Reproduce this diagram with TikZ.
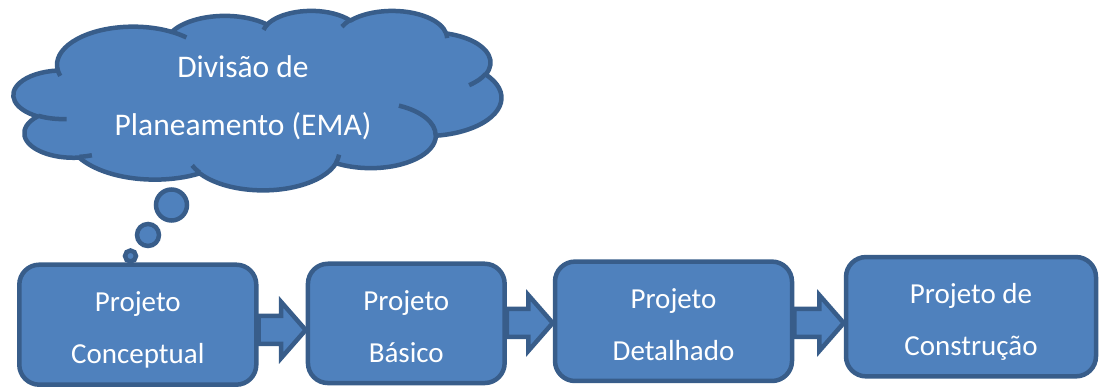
\documentclass[tikz,border=0pt]{standalone}
\usepackage{fontspec}
\setmainfont{Carlito}
\usepackage{xcolor}
\usepackage{tikz}
\usetikzlibrary{calc}
\definecolor{boxfill}{HTML}{4F81BD}
\definecolor{boxline}{HTML}{385D8A}
\pgfdeclarelayer{background}
\pgfsetlayers{background,main}
\newcommand{\puff}[4]{arc[x radius=#1, y radius=#2, start angle={atan2(#1*sin(#3),#2*cos(#3))}, delta angle={mod(atan2(#1*sin(#3+#4),#2*cos(#3+#4))-atan2(#1*sin(#3),#2*cos(#3))+720,360)}]}
\newcommand{\boxstrut}{\rule[-8pt]{0pt}{42pt}}
\newcommand{\cloudstrut}{\rule[-10pt]{0pt}{48pt}}
\newcommand{\flowarrow}[3]{\draw[arrowbody] let \p1=(#1.east), \p2=(#2.west) in (\x1,#3+14) -- (\x2-24.5,#3+14) -- (\x2-24.5,#3+28) -- (\x2,#3) -- (\x2-24.5,#3-28) -- (\x2-24.5,#3-14) -- (\x1,#3-14) -- cycle;}

\begin{document}
\begin{tikzpicture}[x=1pt, y=1pt,
  stage/.style={draw=boxline, fill=boxfill, line width=4.5pt, rounded corners=20pt, inner sep=0pt, text=white, align=center, font=\fontsize{29}{52}\selectfont},
  arrowbody/.style={draw=boxline, fill=boxfill, line width=4.5pt},
  thought/.style={circle, draw=boxline, fill=boxfill, line width=4.5pt, inner sep=0pt},
  cloudline/.style={draw=boxline, fill=boxfill, line width=4.5pt, line join=round}]
\useasboundingbox (0,0) rectangle (1099,387);
\begin{scope}[shift={(13.7,376.7)}, x=0.11287pt, y=-0.041528pt, cloudline]
\filldraw (390,1437) \puff{675.3}{919.0}{-190.4875}{123.7805} \puff{533.3}{726.7}{-144.1024}{89.9452} \puff{436.5}{594.5}{-145.8079}{99.7230} \puff{485.7}{659.5}{-130.9861}{117.2417} \puff{533.3}{727.3}{-78.7089}{109.0269} \puff{677.5}{922.0}{-46.2673}{130.2690} \puff{578.5}{786.7}{0.6250}{114.0333} \puff{675.2}{921.5}{22.4516}{115.1726} \puff{772.0}{1054.3}{66.2426}{75.7110} \puff{436.0}{591.8}{-274.9421}{146.7356} \puff{434.5}{594.5}{-246.8285}{152.5189} -- cycle;
\draw (469.3,2617.7) \puff{434.5}{594.5}{86.742}{26.4295}
  (692.8,3489.9) \puff{436.0}{591.8}{73.6105}{11.4475}
  (1647.8,3909.0) \puff{675.2}{921.5}{137.6242}{14.0811}
  (2882.7,3475.1) \puff{675.2}{921.5}{6.4533}{15.9984}
  (3412.9,2295.4) \puff{578.5}{786.7}{-70.2924}{70.9174}
  (4179.8,1535.4) \puff{533.3}{727.3}{30.318}{27.7515}
  (3832.4,542.6) \puff{485.7}{659.5}{-13.7443}{14.8589}
  (2907.8,395.2) \puff{485.7}{659.5}{-149.1815}{18.1954}
  (2214.1,472.0) \puff{436.5}{594.5}{-163.4943}{17.6864}
  (1400.0,519.2) \puff{675.3}{919.0}{-66.707}{12.3194}
  (412.7,1578.9) \puff{675.3}{919.0}{157.6544}{11.8582};
\end{scope}
\node[text=white, align=center, font=\fontsize{31.5}{58}\selectfont] (ema) at (243,294.7) {\cloudstrut Divisão de\\\cloudstrut Planeamento (EMA)};
\node[thought, minimum size=31pt] (bub1) at (171.5,182) {};
\node[thought, minimum size=22pt] (bub2) at (148,152) {};
\node[thought, minimum size=11pt] (bub3) at (130.5,131) {};
\node[stage, minimum width=237pt, minimum height=120pt] (conc) at (137.8,62.3) {\boxstrut Projeto\\\boxstrut Conceptual};
\node[stage, minimum width=196.7pt, minimum height=119.3pt] (basic) at (406.3,63.6) {\boxstrut Projeto\\\boxstrut Básico};
\node[stage, minimum width=237pt, minimum height=119.4pt] (detal) at (673.5,65.7) {\boxstrut Projeto\\\boxstrut Detalhado};
\node[stage, minimum width=250pt, minimum height=119.3pt] (constr) at (971,70.3) {\boxstrut Projeto de\\\boxstrut Construção};
\begin{pgfonlayer}{background}
\flowarrow{conc}{basic}{57}
\flowarrow{basic}{detal}{64}
\flowarrow{detal}{constr}{64}
\end{pgfonlayer}
\end{tikzpicture}
\end{document}
